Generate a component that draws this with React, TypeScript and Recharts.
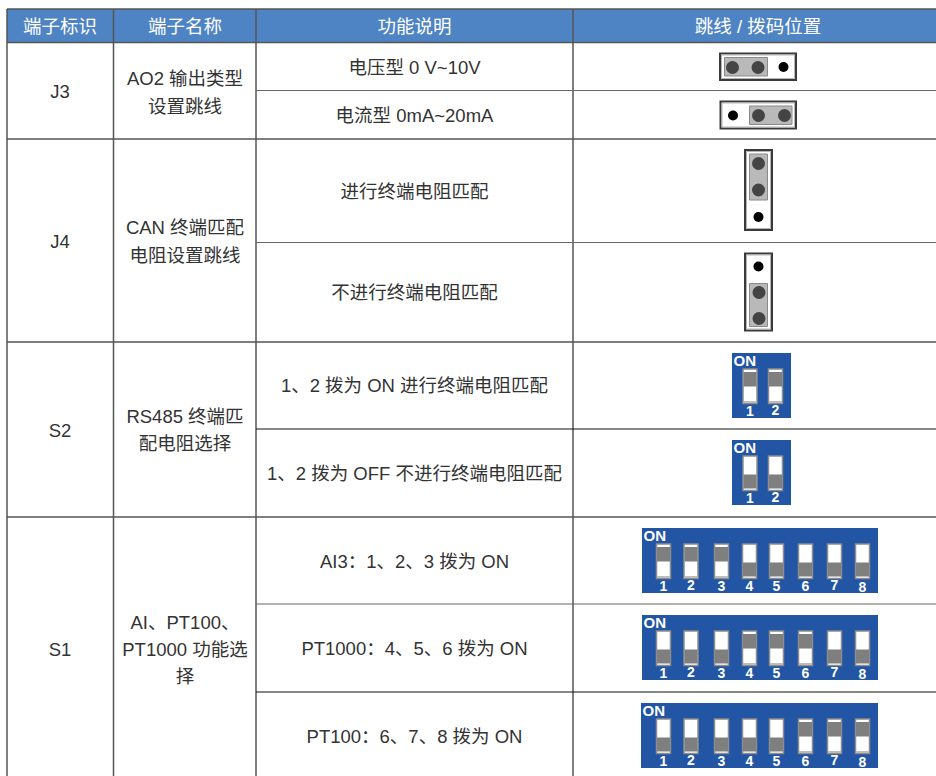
import { ScatterChart, Scatter, XAxis, YAxis, ReferenceLine, ReferenceArea } from "recharts";

const WIDTH = 936;
const HEIGHT = 776;

// table rules, in picture units
const columnEdges = [7, 113.5, 256, 573];
const fullRows = [9, 42.5, 139, 342, 517];
const partialRows = [90.5, 242.5, 429, 604, 692];
const darkRows = [429, 692];

const headerLabels = [
  { x: 60, y: 26, label: "端子标识" },
  { x: 185, y: 26, label: "端子名称" },
  { x: 414.5, y: 26, label: "功能说明" },
  { x: 758, y: 26, label: "跳线 / 拨码位置" },
];

const cellLabels = [
  { x: 60, y: 91.5, label: "J3" },
  { x: 60, y: 241.5, label: "J4" },
  { x: 60, y: 430, label: "S2" },
  { x: 60, y: 649, label: "S1" },
  { x: 185, y: 78, label: "AO2 输出类型" },
  { x: 185, y: 106, label: "设置跳线" },
  { x: 185, y: 227, label: "CAN 终端匹配" },
  { x: 185, y: 255, label: "电阻设置跳线" },
  { x: 185, y: 416.5, label: "RS485 终端匹" },
  { x: 185, y: 443, label: "配电阻选择" },
  { x: 185, y: 622.5, label: "AI、PT100、" },
  { x: 185, y: 649, label: "PT1000 功能选" },
  { x: 185, y: 676, label: "择" },
  { x: 414.5, y: 67.5, label: "电压型 0 V~10V" },
  { x: 414.5, y: 115.5, label: "电流型 0mA~20mA" },
  { x: 414.5, y: 191, label: "进行终端电阻匹配" },
  { x: 414.5, y: 292, label: "不进行终端电阻匹配" },
  { x: 414.5, y: 385.5, label: "1、2 拨为 ON 进行终端电阻匹配" },
  { x: 414.5, y: 473, label: "1、2 拨为 OFF 不进行终端电阻匹配" },
  { x: 414.5, y: 561.5, label: "AI3：1、2、3 拨为 ON" },
  { x: 414.5, y: 648, label: "PT1000：4、5、6 拨为 ON" },
  { x: 414.5, y: 736.5, label: "PT100：6、7、8 拨为 ON" },
];

// jumper housings and the shunt caps sitting on them
const jumpers = [
  { x1: 720, x2: 796, y1: 53.5, y2: 80, capX1: 724.5, capX2: 767.5, capY1: 57.5, capY2: 76 },
  { x1: 720.5, x2: 796, y1: 101.5, y2: 128.5, capX1: 749.5, capX2: 792, capY1: 106, capY2: 124.5 },
  { x1: 745, x2: 772, y1: 150, y2: 230, capX1: 749.5, capX2: 767.5, capY1: 154, capY2: 200 },
  { x1: 745, x2: 772, y1: 253.5, y2: 330.5, capX1: 749.5, capX2: 767.5, capY1: 283.5, capY2: 326.5 },
];

const coveredPins = [
  { x: 732.5, y: 67.5 },
  { x: 758, y: 67.5 },
  { x: 758.5, y: 115.5 },
  { x: 784.5, y: 115.5 },
  { x: 758.5, y: 163.5 },
  { x: 758.5, y: 190 },
  { x: 759, y: 292.5 },
  { x: 759, y: 318.5 },
];

const openPins = [
  { x: 783.5, y: 67 },
  { x: 733, y: 115.5 },
  { x: 758.5, y: 217 },
  { x: 758.5, y: 266.5 },
];

const switchNames = ["1", "2", "3", "4", "5", "6", "7", "8"];
const numberShift = [0, -1, 0, 0, 0, 0, -0.5, 1];
const twoWayCentres = [750, 775.5];
const eightWayCentres = [663.5, 691, 721.5, 749.5, 776.5, 805.5, 834.5, 862.5];

const dipBlocks = [
  { x1: 732, x2: 791, top: 353, centres: twoWayCentres, on: [1, 2] },
  { x1: 732, x2: 791, top: 440, centres: twoWayCentres, on: [] },
  { x1: 642, x2: 878, top: 528, centres: eightWayCentres, on: [1, 2, 3] },
  { x1: 642, x2: 878, top: 615, centres: eightWayCentres, on: [4, 5, 6] },
  { x1: 641, x2: 878, top: 703, centres: eightWayCentres, on: [6, 7, 8] },
];

const dipTitles = dipBlocks.map((b) => ({ x: b.x1 + 1.5, y: b.top + 7, label: "ON" }));
const dipNumbers = dipBlocks.flatMap((b) =>
  b.centres.map((c, i) => ({ x: c, y: b.top + 57.5 + numberShift[i], label: switchNames[i] })),
);

const FONT = '"Liberation Sans", "Noto Sans CJK SC", sans-serif';
const NARROW = '"Liberation Sans Narrow", "Liberation Sans", sans-serif';

function textShape(fill: string, size: number, weight: number, anchor: string, family = FONT) {
  return (p: any) => (
    <text
      x={p.cx}
      y={p.cy}
      fill={fill}
      fontSize={size}
      fontWeight={weight}
      fontFamily={family}
      textAnchor={anchor}
      dominantBaseline="central"
    >
      {p.payload.label}
    </text>
  );
}

function pinShape(fill: string, r: number) {
  return (p: any) => <circle cx={p.cx} cy={p.cy} r={r} fill={fill} />;
}

export default function App() {
  return (
    <div style={{ position: "absolute", left: 0, top: 0, width: WIDTH, height: HEIGHT, background: "#fff" }}>
      <ScatterChart width={WIDTH} height={HEIGHT} margin={{ top: 0, right: 0, bottom: 0, left: 0 }}>
        <XAxis type="number" dataKey="x" domain={[0, WIDTH]} hide />
        <YAxis type="number" dataKey="y" domain={[0, HEIGHT]} reversed hide />

        <ReferenceArea x1={columnEdges[0]} x2={WIDTH} y1={fullRows[0]} y2={fullRows[1]} fill="#4f84c4" fillOpacity={1} stroke="none" />

        {jumpers.map((j, i) => (
          <ReferenceArea key={`j${i}`} x1={j.x1} x2={j.x2} y1={j.y1} y2={j.y2} fill="#fff" fillOpacity={1} stroke="#3a3a3a" strokeWidth={2} />
        ))}
        {jumpers.map((j, i) => (
          <ReferenceArea key={`i${i}`} x1={j.x1 + 1.5} x2={j.x2 - 1.5} y1={j.y1 + 1.5} y2={j.y2 - 1.5} fill="#fff" fillOpacity={1} stroke="#b5b5b5" strokeWidth={1} />
        ))}
        {jumpers.map((j, i) => (
          <ReferenceArea key={`c${i}`} x1={j.capX1} x2={j.capX2} y1={j.capY1} y2={j.capY2} fill="#b9b9b9" fillOpacity={1} stroke="#8a8a8a" strokeWidth={1} />
        ))}

        {dipBlocks.map((b, i) => (
          <ReferenceArea key={`d${i}`} x1={b.x1} x2={b.x2} y1={b.top} y2={b.top + 65} fill="#2255a4" fillOpacity={1} stroke="none" />
        ))}
        {dipBlocks.flatMap((b, i) =>
          b.centres.map((c, k) => (
            <ReferenceArea key={`s${i}-${k}`} x1={c - 7} x2={c + 7} y1={b.top + 16} y2={b.top + 50.5} fill="#fff" fillOpacity={1} stroke="#8d8d8d" strokeWidth={1.5} />
          )),
        )}
        {dipBlocks.flatMap((b, i) =>
          b.centres.map((c, k) => {
            const isOn = b.on.includes(k + 1);
            return (
              <ReferenceArea
                key={`h${i}-${k}`}
                x1={c - 6.5}
                x2={c + 6.5}
                y1={b.top + (isOn ? 19 : 34.5)}
                y2={b.top + (isOn ? 33.5 : 48.5)}
                fill="#7f7f7f"
                fillOpacity={1}
                stroke="none"
              />
            );
          }),
        )}
        {dipBlocks.flatMap((b, i) =>
          b.centres
            .filter((_c, k) => b.on.includes(k + 1))
            .map((c, k) => (
              <ReferenceArea key={`b${i}-${k}`} x1={c - 6.5} x2={c + 6.5} y1={b.top + 48} y2={b.top + 50} fill="#bdbdbd" fillOpacity={1} stroke="none" />
            )),
        )}

        {columnEdges.map((x) => (
          <ReferenceLine key={`v${x}`} segment={[{ x, y: fullRows[0] }, { x, y: HEIGHT }]} stroke="#555" strokeWidth={1.5} />
        ))}
        {fullRows.map((y) => (
          <ReferenceLine key={`r${y}`} segment={[{ x: columnEdges[0], y }, { x: WIDTH, y }]} stroke="#555" strokeWidth={1.5} />
        ))}
        {partialRows.map((y) => (
          <ReferenceLine
            key={`p${y}`}
            segment={[{ x: columnEdges[2], y }, { x: WIDTH, y }]}
            stroke={darkRows.includes(y) ? "#111" : "#666"}
            strokeWidth={1.2}
          />
        ))}

        <Scatter data={coveredPins} isAnimationActive={false} shape={pinShape("#444", 6.5)} />
        <Scatter data={openPins} isAnimationActive={false} shape={pinShape("#000", 5)} />
        <Scatter data={headerLabels} isAnimationActive={false} shape={textShape("#fff", 18.5, 400, "middle")} />
        <Scatter data={cellLabels} isAnimationActive={false} shape={textShape("#333", 18.5, 400, "middle")} />
        <Scatter data={dipTitles} isAnimationActive={false} shape={textShape("#fff", 15, 700, "start", NARROW)} />
        <Scatter data={dipNumbers} isAnimationActive={false} shape={textShape("#fff", 14, 700, "middle", NARROW)} />
      </ScatterChart>
    </div>
  );
}
